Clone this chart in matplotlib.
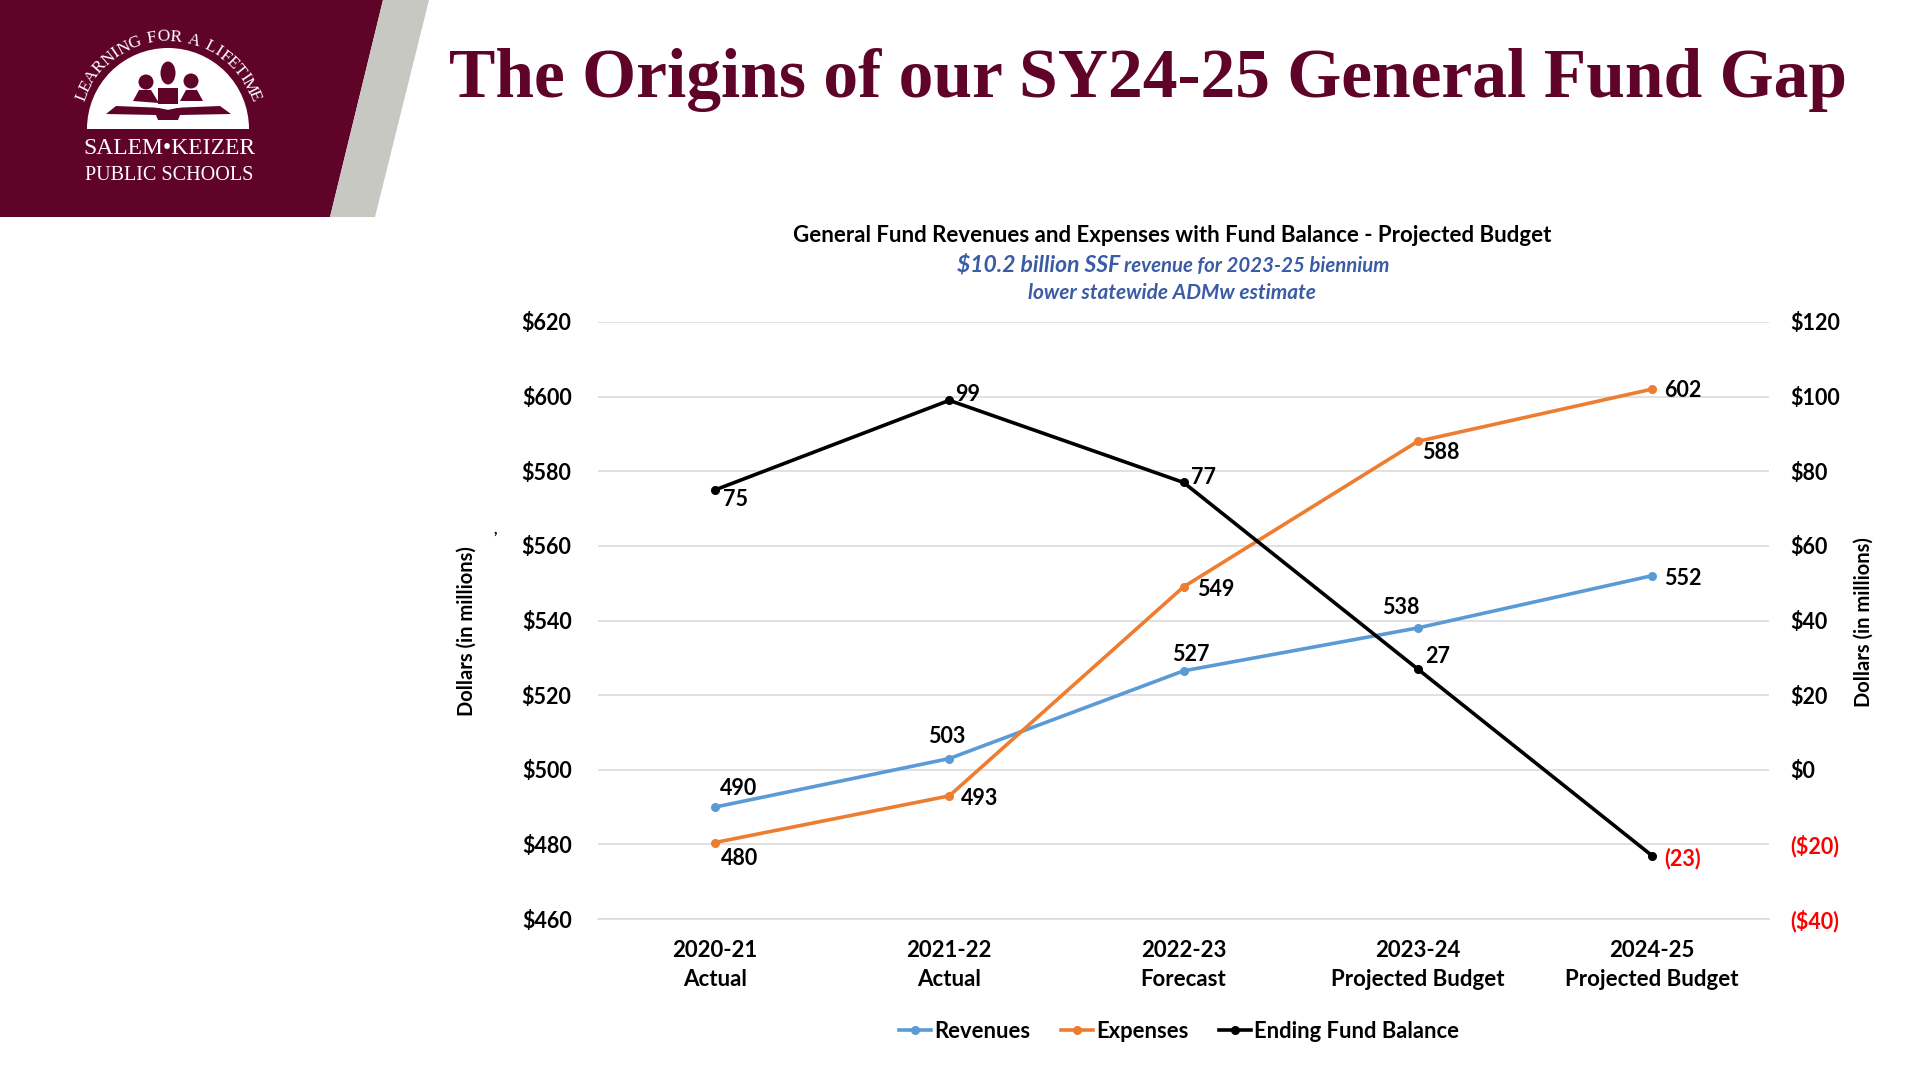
#!/usr/bin/env python3
import numpy as np
from matplotlib import pyplot as plt
from matplotlib.patches import Polygon, Ellipse, Wedge

plt.rcParams['font.family'] = ['Lato', 'DejaVu Sans']

years = ['2020-21\nActual', '2021-22\nActual', '2022-23\nForecast',
         '2023-24\nProjected Budget', '2024-25\nProjected Budget']
revenues = [490, 503, 526.5, 538, 552]
expenses = [480.5, 493, 549, 588, 602]
balance = [75, 99, 77, 27, -23]
revenue_labels = ['490', '503', '527', '538', '552']
expense_labels = ['480', '493', '549', '588', '602']
balance_labels = ['75', '99', '77', '27', '(23)']
left_ticks = [460, 480, 500, 520, 540, 560, 580, 600, 620]
right_ticks = [-40, -20, 0, 20, 40, 60, 80, 100, 120]
right_tick_labels = ['($40)', '($20)', '$0', '$20', '$40', '$60', '$80', '$100', '$120']

MAROON = '#5f0329'
BLUE = '#5b9bd5'
ORANGE = '#ed7d31'
SUB = '#3b5ca4'
RED = '#ff0000'
PT = 0.72  # pixels to points at dpi 100

fig = plt.figure(figsize=(19.2, 10.8), dpi=100, facecolor='white')

# page furniture in pixel coordinates
bg = fig.add_axes([0, 0, 1, 1])
bg.set_xlim(0, 1920)
bg.set_ylim(1080, 0)
bg.axis('off')
bg.add_patch(Polygon([(0, 0), (383, 0), (330, 217), (0, 217)], color=MAROON, lw=0))
bg.add_patch(Polygon([(383, 0), (429, 0), (375, 217), (330, 217)], color='#c8c8c3', lw=0))

# logo
bg.add_patch(Wedge((168, 129), 81, 180, 360, color='white', lw=0))
for cx, cy, w, h in [(146, 82, 15, 15), (168, 73, 15, 23), (191, 81, 15, 15)]:
    bg.add_patch(Ellipse((cx, cy), w, h, color=MAROON, lw=0))
bg.add_patch(Polygon([(133, 101), (139, 90), (151, 90), (159, 103)], color=MAROON, lw=0))
bg.add_patch(Polygon([(158, 104), (158, 88), (178, 88), (178, 104)], color=MAROON, lw=0))
bg.add_patch(Polygon([(180, 101), (186, 90), (197, 90), (203, 101)], color=MAROON, lw=0))
bg.add_patch(Polygon([(106, 114), (116, 106), (166, 108), (168, 109), (170, 108), (220, 106),
                      (231, 114), (180, 115), (178, 120), (158, 120), (156, 115)], color=MAROON, lw=0))
bg.plot([115, 143, 168, 193, 222], [102, 104, 109, 104, 101], color='white', lw=1.2)

arc_text = 'LEARNING FOR A LIFETIME'
# narrow letters and gaps take less of the arc
steps = np.array([0.55 if ch in ' I' else 0.85 if ch in 'LEFT' else 1.0 for ch in arc_text])
arc_pos = (np.cumsum(steps) - steps / 2) / steps.sum()
for ch, p in zip(arc_text, arc_pos):
    ang = 162 - p * 144
    a = np.deg2rad(ang)
    bg.text(168 + 92 * np.cos(a), 129 - 92 * np.sin(a), ch, color='white', fontsize=12.5,
            family='Liberation Serif', rotation=ang - 90, ha='center', va='center')
bg.text(169.5, 149, 'SALEM\u2022KEIZER', color='white', fontsize=17, family='Liberation Serif',
        ha='center', va='center')
bg.text(169.5, 175, 'PUBLIC SCHOOLS', color='white', fontsize=14.5, family='Liberation Serif',
        ha='center', va='center')

bg.text(1148, 80, 'The Origins of our SY24-25 General Fund Gap', color=MAROON, fontsize=50,
        family='Liberation Serif', weight='bold', ha='center', va='center')

bg.text(1172, 236, 'General Fund Revenues and Expenses with Fund Balance - Projected Budget',
        color='black', fontsize=16, weight='bold', ha='center', va='center')
bg.text(1120, 265, '$10.2 billion SSF', color=SUB, fontsize=16.5, weight='bold', style='italic',
        ha='right', va='center')
bg.text(1124, 266, 'revenue for 2023-25 biennium', color=SUB, fontsize=14.7, weight='bold',
        style='italic', ha='left', va='center')
bg.text(1172, 293, 'lower statewide ADMw estimate', color=SUB, fontsize=15, weight='bold',
        style='italic', ha='center', va='center')
bg.text(467, 631, 'Dollars (in millions)', fontsize=14.5, weight='bold', rotation=90,
        ha='center', va='center')
bg.text(1864, 622, 'Dollars (in millions)', fontsize=14.5, weight='bold', rotation=90,
        ha='center', va='center')
bg.text(495, 530, ',', fontsize=11, weight='bold', ha='center', va='center')

# chart
ax = fig.add_axes([598 / 1920, 1 - 919 / 1080, (1769 - 598) / 1920, (919 - 322) / 1080])
ax.patch.set_alpha(0)
x = np.arange(len(years))
ax.set_xlim(-0.5, len(years) - 0.5)
ax.set_ylim(460, 620)
ax.set_yticks(left_ticks)
ax.set_yticklabels(['$%d' % t for t in left_ticks], fontsize=15.5, weight='bold')
ax.set_xticks(x)
ax.set_xticklabels(years, fontsize=16, weight='bold', linespacing=1.5)
ax.tick_params(axis='both', length=0)
ax.tick_params(axis='y', pad=19)
ax.tick_params(axis='x', pad=15)
ax.grid(axis='y', color='#d9d9d9', lw=1.1)
ax.set_axisbelow(True)
for s in ax.spines.values():
    s.set_visible(False)
ax.spines['bottom'].set_visible(True)
ax.spines['bottom'].set_color('#d9d9d9')
ax.spines['bottom'].set_linewidth(1.1)

line_r, = ax.plot(x, revenues, color=BLUE, lw=2.6, marker='o', ms=5.5, label='Revenues')
line_e, = ax.plot(x, expenses, color=ORANGE, lw=2.6, marker='o', ms=5.5, label='Expenses')

ax2 = ax.twinx()
ax2.set_ylim(-40, 120)
ax2.set_yticks(right_ticks)
ax2.set_yticklabels(right_tick_labels, fontsize=15.5, weight='bold')
ax2.tick_params(axis='y', length=0, pad=15)
for s in ax2.spines.values():
    s.set_visible(False)
for lab, t in zip(ax2.get_yticklabels(), right_ticks):
    if t < 0:
        lab.set_color(RED)
line_b, = ax2.plot(x, balance, color='black', lw=2.6, marker='o', ms=5.5, label='Ending Fund Balance')


def put_labels(axis, xs, ys, labels, offsets, colors=None):
    for i, (xv, yv, s, off) in enumerate(zip(xs, ys, labels, offsets)):
        c = colors[i] if colors else 'black'
        axis.annotate(s, (xv, yv), xytext=(off[0] * 1.2246 * PT, (off[1] - 1) * 1.2246 * PT),
                      textcoords='offset points', ha='center', va='center',
                      fontsize=15.5, weight='bold', color=c)


put_labels(ax, x, revenues, revenue_labels, [(19, 16), (-2, 19), (6, 14), (-14, 18), (25, -1)])
put_labels(ax, x, expenses, expense_labels, [(20, -12), (25, -1), (26, -1), (19, -8), (25, 0)])
put_labels(ax2, x, balance, balance_labels, [(17, -7), (15, 6), (16, 5), (16, 11), (25, -1)],
           ['black', 'black', 'black', 'black', RED])

fig.legend(handles=[line_r, line_e, line_b], loc='center', bbox_to_anchor=(1179 / 1920, 1 - 1031 / 1080),
           ncol=3, frameon=False, prop={'size': 15.8, 'weight': 'bold'}, handlelength=1.45,
           handletextpad=0.15, columnspacing=1.4, markerscale=1.0)

fig.savefig('out.png', dpi=100, facecolor='white')
